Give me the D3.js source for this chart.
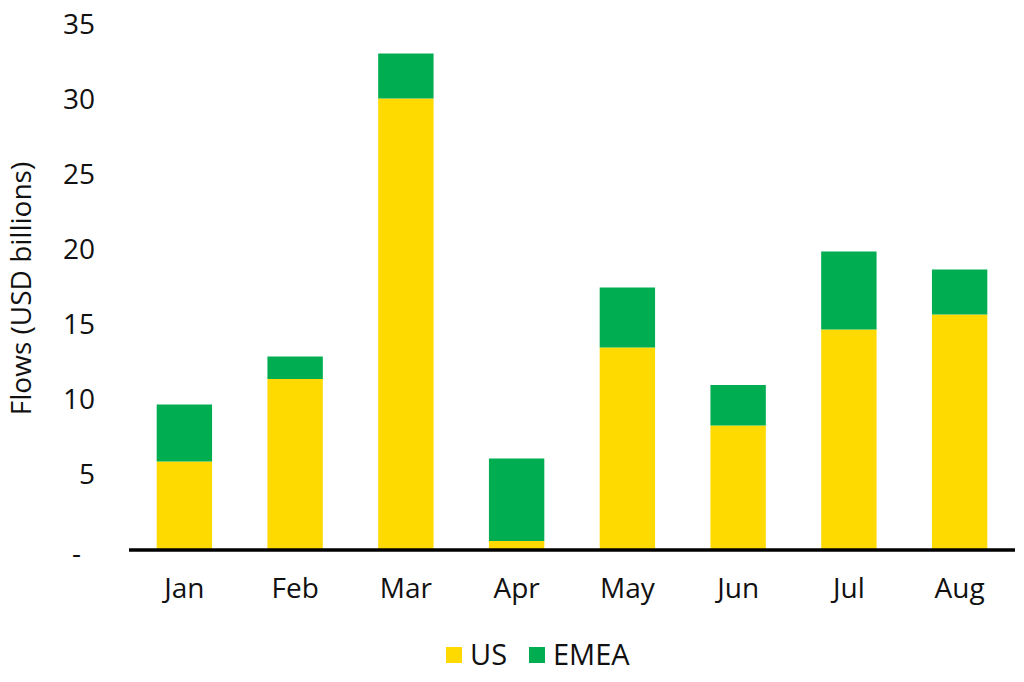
<!DOCTYPE html>
<html>
<head>
<meta charset="utf-8">
<script src="https://cdn.jsdelivr.net/npm/d3@7"></script>
<style>
  html, body { margin: 0; padding: 0; background: #fff; }
  svg { display: block; font-family: "Open Sans", "Noto Sans", sans-serif; }
</style>
</head>
<body>
<div id="chart"></div>
<script>
const months = ["Jan", "Feb", "Mar", "Apr", "May", "Jun", "Jul", "Aug"];
const us   = [5.9, 11.4, 30.1, 0.6, 13.5, 8.3, 14.7, 15.7];
const emea = [3.8, 1.5, 3.0, 5.5, 4.0, 2.7, 5.2, 3.0];
const series = ["US", "EMEA"];
const colors = ["#ffda00", "#00ad50"];
const yTicks = [0, 5, 10, 15, 20, 25, 30, 35];

const width = 1024, height = 682;
const margin = {top: 25, right: 9, bottom: 132, left: 129};

const svg = d3.select("#chart").append("svg")
    .attr("width", width)
    .attr("height", height);

let data = months.map((m, i) => ({month: m, US: us[i], EMEA: emea[i]}));
let stacked = d3.stack().keys(series)(data);

let x = d3.scaleBand()
    .domain(months)
    .range([margin.left, width - margin.right])
    .paddingInner(0.5)
    .paddingOuter(0.25);

let y = d3.scaleLinear()
    .domain([0, 35])
    .range([height - margin.bottom, margin.top]);

let color = d3.scaleOrdinal().domain(series).range(colors);

// bars
svg.append("g")
  .selectAll("g")
  .data(stacked)
  .join("g")
    .attr("fill", d => color(d.key))
  .selectAll("rect")
  .data(d => d)
  .join("rect")
    .attr("x", d => x(d.data.month))
    .attr("y", d => y(d[1]))
    .attr("height", d => y(d[0]) - y(d[1]))
    .attr("width", x.bandwidth());

// y axis (labels only)
let yAxis = svg.append("g")
    .attr("transform", `translate(${margin.left},0)`)
    .call(d3.axisLeft(y).tickValues(yTicks).tickSize(0).tickPadding(34)
        .tickFormat(d => d === 0 ? "-" : d))
    .style("font-size", "28px")
    .style("font-family", "inherit");
yAxis.select(".domain").remove();
yAxis.selectAll(".tick text").attr("fill", "#111");
yAxis.selectAll(".tick").filter(d => d === 0).select("text")
    .attr("dx", "-14px").attr("dy", "0.45em");

// x axis
let xAxis = svg.append("g")
    .attr("transform", `translate(0,${y(0)})`)
    .call(d3.axisBottom(x).tickSize(0).tickPadding(28))
    .style("font-size", "28px")
    .style("font-family", "inherit");
xAxis.select(".domain").attr("stroke", "#000").attr("stroke-width", 3.5)
    .attr("d", `M${margin.left},0H${width - margin.right}`);
xAxis.selectAll(".tick text").attr("fill", "#111");

// y title
svg.append("text")
    .attr("transform", `translate(31,${(152 + 425) / 2}) rotate(-90)`)
    .attr("text-anchor", "middle")
    .style("font-size", "28px")
    .attr("fill", "#111")
    .text("Flows (USD billions)");

// legend
const legendX = [446, 529];
let legend = svg.append("g").selectAll("g")
  .data(series)
  .join("g")
    .attr("transform", (d, i) => `translate(${legendX[i]},647)`);
legend.append("rect")
    .attr("width", 16).attr("height", 16)
    .attr("fill", d => color(d));
legend.append("text")
    .attr("x", 24).attr("y", 8).attr("dy", "0.36em")
    .style("font-size", "29px")
    .attr("fill", "#111")
    .text(d => d);
</script>
</body>
</html>
